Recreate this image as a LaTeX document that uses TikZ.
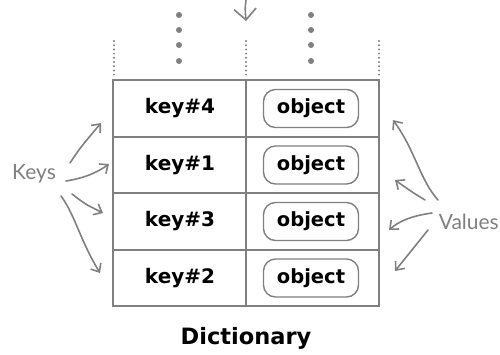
\documentclass[tikz,border=0pt]{standalone}
\usepackage{fontspec}
\setmainfont{DejaVu Sans}
\newfontfamily\handfont{Lato}
\usetikzlibrary{arrows.meta}
\definecolor{lgray}{RGB}{128,128,128}
\tikzset{
  tbl/.style={draw=lgray, line width=1.8pt},
  keytxt/.style={font=\bfseries\fontsize{20}{22}\selectfont, text=black},
  objbox/.style={draw=lgray, line width=1.4pt, rounded corners=12pt, minimum width=95pt, minimum height=38pt, inner sep=0pt, font=\bfseries\fontsize{19.5}{22}\selectfont},
  handarr/.style={draw=lgray, line width=1.6pt, line cap=round, -{Straight Barb[length=7pt,width=12pt,line width=1.6pt]}},
  handtxt/.style={font=\handfont\fontsize{21}{23}\selectfont, text=lgray},
  dotline/.style={draw=lgray, line width=2.2pt, dash pattern=on 0pt off 4.2pt, line cap=round},
  bigdot/.style={fill=lgray, circle, inner sep=0pt, minimum size=6pt}
}
\begin{document}
\begin{tikzpicture}[x=1pt,y=-1pt]
\useasboundingbox (0,0) rectangle (500,354);
% table
\draw[tbl] (113,80) rectangle (379,306);
\draw[tbl] (113,137) -- (379,137) (113,193) -- (379,193) (113,250) -- (379,250) (246,80) -- (246,306);
% dotted continuation lines
\draw[dotline] (114,41) -- (114,77);
\draw[dotline] (246,41) -- (246,77);
\draw[dotline] (379,41) -- (379,77);
% big dots
\foreach \yy [count=\i] in {15,30,45,61}{
  \node[bigdot] (dl\i) at (179,\yy) {};
  \node[bigdot] (dr\i) at (311,\yy) {};
}
% top arrow
\coordinate (ta) at (246,0);
\coordinate (tb) at (246,21);
\draw[draw=lgray, line width=1.6pt, -{Straight Barb[length=11pt,width=22pt,line width=1.6pt]}] (ta) .. controls (245,8) .. (tb);
% keys and objects
\node[keytxt] (k4) at (180,108.5) {key\#4};
\node[keytxt] (k1) at (180,165) {key\#1};
\node[keytxt] (k3) at (180,221.5) {key\#3};
\node[keytxt] (k2) at (180,278) {key\#2};
\node[objbox] (o4) at (311,108.5) {object};
\node[objbox] (o1) at (311,165) {object};
\node[objbox] (o3) at (311,221.5) {object};
\node[objbox] (o2) at (311,278) {object};
% labels
\node[handtxt] (keys) at (34,174) {Keys};
\node[handtxt, anchor=east, inner xsep=1pt] (values) at (500,222) {Values};
\node[font=\bfseries\fontsize{22.5}{24}\selectfont] (dict) at (246,338) {Dictionary};
% keys arrows
\coordinate (ka1) at (101,123);
\coordinate (ka2) at (109,164);
\coordinate (ka3) at (103,213);
\coordinate (ka4) at (100,273);
\draw[handarr] (70,163) .. controls (80,148) .. (ka1);
\draw[handarr] (66,181) .. controls (85,178) and (98,172) .. (ka2);
\draw[handarr] (72,194) .. controls (85,204) .. (ka3);
\draw[handarr] (61,196) .. controls (75,215) and (80,240) .. (ka4);
% values arrows
\coordinate (va1) at (393,120);
\coordinate (va2) at (395,180);
\coordinate (va3) at (389,230);
\coordinate (va4) at (395,271);
\draw[handarr] (438,200) .. controls (420,180) and (415,150) .. (va1);
\draw[handarr] (425,200) .. controls (412,192) .. (va2);
\draw[handarr] (432,213) .. controls (410,216) and (398,222) .. (va3);
\draw[handarr] (428,230) .. controls (412,250) .. (va4);
\end{tikzpicture}
\end{document}
